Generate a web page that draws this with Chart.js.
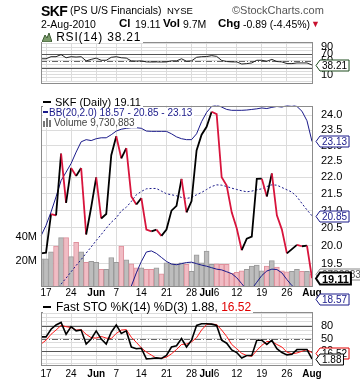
<!DOCTYPE html>
<html><head><meta charset="utf-8">
<script src="https://cdn.jsdelivr.net/npm/chart.js@4.4.1/dist/chart.umd.min.js"></script>
<style>
html,body{margin:0;padding:0;background:#fff;}
#wrap{position:relative;width:360px;height:384px;overflow:hidden;font-family:"Liberation Sans",Arial,sans-serif;background:#fff;}
canvas{position:absolute;left:0;}
.t{position:absolute;white-space:nowrap;line-height:1;color:#000;}
.lg{position:absolute;white-space:nowrap;background:#fff;line-height:1;}
.b{font-weight:bold;}
</style></head><body><div id="wrap">
<canvas id="cPrice" width="360" height="222" style="top:90px"></canvas>
<canvas id="cRsi" width="360" height="72" style="top:26px"></canvas>
<canvas id="cSto" width="360" height="88" style="top:296px"></canvas>

<div class="t b" style="left:41px;top:4px;font-size:14px;letter-spacing:-0.6px;">SKF</div>
<div class="t" style="left:70px;top:5px;font-size:10.5px;">(PS U/S Financials)</div>
<div class="t" style="left:167px;top:6px;font-size:9.5px;">NYSE</div>
<div class="t" style="left:232px;top:5px;font-size:11px;color:#555;">©StockCharts.com</div>
<div class="t" style="left:41px;top:19px;font-size:10.5px;">2-Aug-2010</div>
<div class="t b" style="left:119px;top:18px;font-size:11.5px;">Cl</div>
<div class="t" style="left:135px;top:19px;font-size:10.5px;">19.11</div>
<div class="t b" style="left:163px;top:18px;font-size:11.5px;">Vol</div>
<div class="t" style="left:183px;top:19px;font-size:10.5px;">9.7M</div>
<div class="t b" style="left:218px;top:18px;font-size:11.5px;">Chg</div>
<div class="t" style="left:243px;top:19px;font-size:10.5px;">-0.89 (-4.45%)</div>
<div class="t" style="left:311px;top:20px;font-size:9px;color:#c8102e;">▼</div>

<div class="lg" style="left:42px;top:31px;font-size:12px;letter-spacing:0.8px;padding-right:2px;"><svg width="10" height="9" style="vertical-align:-1px"><polygon points="0,9 3,2 5,5 7,0 10,9" fill="#7a9a6a" stroke="#3d5c33" stroke-width="1"/></svg> RSI(14) 38.21</div>

<div class="lg" style="left:43px;top:97px;font-size:11px;padding-right:2px;"><span style="display:inline-block;width:8px;height:2px;background:#000;vertical-align:3px;margin-right:4px;"></span>SKF (Daily) 19.11</div>
<div class="lg" style="left:43px;top:108px;font-size:10px;color:#1a1a8a;padding-right:2px;"><span style="display:inline-block;width:5px;height:2px;background:#1a1a8a;vertical-align:3px;margin-right:1px;"></span>BB(20,2.0) 18.57 - 20.85 - 23.13</div>
<div class="lg" style="left:43px;top:118px;font-size:10px;color:#444;padding-right:2px;"><svg width="10" height="9" style="vertical-align:-1px;margin-right:1px"><rect x="0" y="3" width="2" height="6" fill="#777"/><rect x="3" y="0" width="2" height="9" fill="#777"/><rect x="6" y="2" width="2" height="7" fill="#777"/></svg>Volume 9,730,883</div>

<div class="lg" style="left:43px;top:301px;font-size:12px;padding-right:2px;"><span style="display:inline-block;width:8px;height:2px;background:#000;vertical-align:3px;margin-right:5px;"></span>Fast STO %K(14) %D(3) 1.88, <span style="color:#e00000">16.52</span></div>
</div>
<script>
// ---------- DATA ----------
const dates = ['2010-05-14','2010-05-17','2010-05-18','2010-05-19','2010-05-20','2010-05-21','2010-05-24','2010-05-25','2010-05-26','2010-05-27','2010-05-28','2010-06-01','2010-06-02','2010-06-03','2010-06-04','2010-06-07','2010-06-08','2010-06-09','2010-06-10','2010-06-11','2010-06-14','2010-06-15','2010-06-16','2010-06-17','2010-06-18','2010-06-21','2010-06-22','2010-06-23','2010-06-24','2010-06-25','2010-06-28','2010-06-29','2010-06-30','2010-07-01','2010-07-02','2010-07-06','2010-07-07','2010-07-08','2010-07-09','2010-07-12','2010-07-13','2010-07-14','2010-07-15','2010-07-16','2010-07-19','2010-07-20','2010-07-21','2010-07-22','2010-07-23','2010-07-26','2010-07-27','2010-07-28','2010-07-29','2010-07-30','2010-08-02'];
const close = [19.78,19.80,20.90,20.86,22.74,21.23,22.29,22.04,22.29,20.31,21.10,22.00,20.77,20.90,22.69,23.30,22.59,22.92,21.42,21.18,21.37,20.45,20.40,20.45,20.27,20.45,21.00,21.14,21.95,20.95,21.28,22.84,23.35,23.61,24.11,24.03,22.00,21.75,20.95,20.49,19.87,20.19,20.25,21.95,21.96,21.42,22.12,20.86,20.45,19.78,19.90,20.02,19.98,20.00,19.11];
const bbUpper = [20.27,20.57,20.96,21.41,21.90,22.16,22.43,22.79,23.12,23.19,23.16,23.22,23.25,23.25,23.35,23.47,23.53,23.56,23.58,23.58,23.56,23.47,23.46,23.46,23.46,23.46,23.38,23.28,23.22,23.19,23.19,23.38,23.78,24.09,24.29,24.34,24.27,24.19,24.16,24.16,24.16,24.17,24.19,24.21,24.24,24.22,24.26,24.29,24.27,24.32,24.35,24.29,24.13,23.81,23.13];
const bbMiddle = [18.30,18.45,18.62,18.78,18.95,19.11,19.28,19.45,19.61,19.79,19.96,20.14,20.31,20.49,20.66,20.79,20.99,21.10,21.27,21.47,21.57,21.65,21.66,21.66,21.58,21.50,21.47,21.44,21.39,21.36,21.39,21.47,21.54,21.63,21.72,21.77,21.76,21.72,21.67,21.63,21.59,21.56,21.58,21.62,21.65,21.72,21.77,21.76,21.69,21.62,21.55,21.41,21.21,21.02,20.85];
const bbLower = [16.3,16.3,16.3,16.2,16.0,16.1,16.1,16.1,16.1,16.4,16.8,17.1,17.4,17.7,18.0,18.1,18.4,18.7,18.90,19.25,19.56,19.82,19.85,19.78,19.67,19.56,19.49,19.47,19.50,19.53,19.54,19.50,19.46,19.43,19.39,19.35,19.33,19.28,19.23,19.12,18.96,18.80,18.82,19.00,19.18,19.30,19.35,19.34,19.25,19.07,18.91,18.80,18.72,18.64,18.57];
const volumeM = [22.1,22.1,27.7,32.3,39.2,39.2,23.8,35.4,27.7,19.2,20.0,19.2,13.6,13.6,23.1,19.2,32.3,21.3,17.9,14.8,14.8,13.6,13.6,14.8,9.8,18.7,17.9,17.9,18.7,17.5,11.8,25.2,18.7,28.2,17.5,17.9,17.5,17.5,10.2,11.0,12.3,13.6,16.2,16.9,12.3,16.2,20.5,15.4,12.3,11.5,11.8,13.6,11.8,11.8,9.730883];
const rsi = [56.5,56.5,62.6,62.6,68.7,59.5,62.6,61.5,62.6,50.3,54.7,58.4,52.1,52.1,60.8,62.6,59.5,58.4,50.3,49.5,50.3,47.3,47.0,47.3,47.0,47.3,50.3,50.3,56.5,49.2,50.3,60.8,62.6,63.0,65.7,63.5,51.6,48.4,47.3,47.3,41.1,42.3,44.2,52.1,52.1,49.2,54.7,48.4,47.3,42.3,42.3,44.2,44.2,44.2,38.21];
const stoK = [54,54,72,82,88,60,78,68,70,37,49,68,49,37,65,82,62,68,30,26,27,2,3,4.5,3,10,30,33,50,30,46,81,85,85,84,81,46,39,23,17,4,10,10,46,46,36,46,26,17,11.5,13,24,24,24,1.88];
const stoD = [37,46,60,70,81,78,76,70,71,60,52,51,55,51,50,62,70,71,53,41,28,18,11,3.5,3.5,6,14,24,36,37,42,52,70,83,84,83,70,55,36,26,15,10,8,22,34,43,43,36,30,18,14,16,20,24,16.52];
const xTickDates = ['2010-05-17','2010-05-24','2010-06-01','2010-06-07','2010-06-14','2010-06-21','2010-06-28','2010-07-01','2010-07-06','2010-07-12','2010-07-19','2010-07-26','2010-08-02'];
const xTickText = ['17','24','Jun','7','14','21','28','Jul','6','12','19','26','Aug'];
const monthLabels = ['Jun','Jul','Aug'];
const noGridLabels = ['6','Aug'];
const priceTicks = [19.0,19.5,20.0,20.5,21.0,21.5,22.0,22.5,23.0,23.5,24.0];
const volTicks = [20,40];
const rsiGridLevels = [-10,0,10,20,30,40,50,60,70,80,90,100];
const rsiTicks = [90,70,50,30,10];
const stoGridLevels = [-10,0,10,20,30,40,50,60,70,80,90,100,110];
const stoTicks = [80,50,20];

// ---------- STYLE ----------
const FONT = '"Liberation Sans", Arial, Helvetica, sans-serif';
const GRID = '#dcdcdc';
const UP = '#000000', DOWN = '#d8143c', BB = '#1a1a8a';
Chart.defaults.font.family = FONT;
Chart.defaults.font.size = 11;
Chart.defaults.color = '#000';
Chart.defaults.animation = false;

const xLabelAt = {};
xTickDates.forEach((d, k) => { xLabelAt[dates.indexOf(d)] = xTickText[k]; });

function xAxis(h, pad, show) {
  return {
    type: 'category', offset: false,
    grid: { offset: false, drawTicks: false, lineWidth: 1,
      color: c => (xLabelAt[c.index] !== undefined && !noGridLabels.includes(xLabelAt[c.index])) ? GRID : 'rgba(0,0,0,0)' },
    border: { display: false },
    ticks: { display: show, autoSkip: false, maxRotation: 0, minRotation: 0, padding: pad, color: '#000',
      callback: (v, i) => xLabelAt[i] !== undefined ? xLabelAt[i] : '',
      font: c => ({ family: FONT, size: 10, weight: monthLabels.includes(xLabelAt[c.index]) ? 'bold' : 'normal' }) },
    afterFit: s => { s.height = h; }
  };
}
function rightAxis(extra, cb) {
  return Object.assign({
    position: 'right',
    grid: { color: GRID, drawTicks: false, lineWidth: 1 },
    border: { display: false },
    ticks: { autoSkip: false, padding: 9, color: '#000', font: { family: FONT, size: 11 }, callback: cb },
    afterFit: s => { s.width = 48; }
  }, extra);
}
const framePlugin = {
  id: 'frame',
  afterDatasetsDraw(chart) {
    const { ctx, chartArea: a } = chart;
    ctx.save(); ctx.strokeStyle = '#8c8c8c'; ctx.lineWidth = 1;
    ctx.strokeRect(Math.round(a.left) + 0.5, Math.round(a.top) + 0.5, Math.round(a.right - a.left), Math.round(a.bottom - a.top));
    ctx.restore();
  }
};
function makeRefLines(scaleID, lines) {
  return { id: 'ref' + scaleID, beforeDatasetsDraw(chart) {
    const { ctx, chartArea: a } = chart; const s = chart.scales[scaleID];
    ctx.save();
    lines.forEach(l => {
      const y = Math.round(s.getPixelForValue(l.value)) + 0.5;
      ctx.beginPath(); ctx.setLineDash(l.dash || []); ctx.strokeStyle = l.color; ctx.lineWidth = 1;
      ctx.moveTo(a.left, y); ctx.lineTo(a.right, y); ctx.stroke();
    });
    ctx.restore();
  } };
}
function makeTags(tags) {
  return { id: 'tags', afterDraw(chart) {
    const ctx = chart.ctx; const x = chart.chartArea.right + 4;
    tags.forEach(t => {
      const y = Math.round(chart.scales[t.scaleID].getPixelForValue(t.value)) + 0.5;
      ctx.save();
      ctx.font = (t.bold ? 'bold ' : '') + t.size + 'px ' + FONT;
      const w = ctx.measureText(t.text).width;
      const h = t.size + 1, ar = 4;
      ctx.beginPath();
      ctx.moveTo(x, y); ctx.lineTo(x + ar, y - h / 2); ctx.lineTo(x + ar + w + 4, y - h / 2);
      ctx.lineTo(x + ar + w + 4, y + h / 2); ctx.lineTo(x + ar, y + h / 2); ctx.closePath();
      ctx.fillStyle = '#fff'; ctx.fill();
      ctx.lineWidth = t.lw || 1; ctx.strokeStyle = t.border; ctx.stroke();
      ctx.fillStyle = t.color; ctx.textBaseline = 'middle'; ctx.textAlign = 'left';
      ctx.fillText(t.text, x + ar + 2, y + 1);
      ctx.restore();
    });
  } };
}
const last = a => a[a.length - 1];

// ---------- RSI ----------
new Chart(document.getElementById('cRsi'), {
  type: 'line',
  data: { labels: dates, datasets: [{ data: rsi, borderColor: '#222', borderWidth: 1, pointRadius: 0, tension: 0 }] },
  options: {
    responsive: false, events: [],
    layout: { padding: { left: 41, top: 5, bottom: 2, right: 0 } },
    plugins: { legend: { display: false }, tooltip: { enabled: false } },
    scales: {
      x: xAxis(0, 0, false),
      y: rightAxis({ min: -13, max: 107,
        afterBuildTicks: s => { s.ticks = rsiGridLevels.map(v => ({ value: v })); } },
        v => rsiTicks.includes(v) ? String(v) : '')
    }
  },
  plugins: [framePlugin,
    makeRefLines('y', [{ value: 70, color: '#555' }, { value: 30, color: '#555' }, { value: 50, color: '#666', dash: [6, 2, 1, 2] }]),
    makeTags([{ scaleID: 'y', value: last(rsi), text: last(rsi).toFixed(2), border: '#1e4d1e', color: '#000', size: 10 }])]
});

// ---------- PRICE + VOLUME ----------
new Chart(document.getElementById('cPrice'), {
  type: 'line',
  data: { labels: dates, datasets: [
    { type: 'line', data: close, yAxisID: 'y', borderWidth: 1.8, pointRadius: 0, tension: 0, order: 1, borderColor: UP,
      segment: { borderColor: c => c.p1.parsed.y < c.p0.parsed.y ? DOWN : UP } },
    { type: 'line', data: bbUpper, yAxisID: 'y', borderColor: BB, borderWidth: 1, pointRadius: 0, tension: 0, order: 2 },
    { type: 'line', data: bbMiddle, yAxisID: 'y', borderColor: BB, borderWidth: 1, borderDash: [2, 2], pointRadius: 0, tension: 0, order: 2 },
    { type: 'line', data: bbLower, yAxisID: 'y', borderColor: BB, borderWidth: 1, pointRadius: 0, tension: 0, order: 2 },
    { type: 'bar', data: volumeM, yAxisID: 'yv', order: 5, categoryPercentage: 1, barPercentage: 1, borderWidth: 1,
      borderSkipped: 'bottom',
      backgroundColor: c => (c.dataIndex > 0 && close[c.dataIndex] < close[c.dataIndex - 1]) ? '#f0bcc4' : '#bdbdbd',
      borderColor: c => (c.dataIndex > 0 && close[c.dataIndex] < close[c.dataIndex - 1]) ? '#e0909c' : '#9a9a9a' }
  ] },
  options: {
    responsive: false, events: [],
    layout: { padding: { left: 0, top: 6, bottom: 0, right: 0 } },
    plugins: { legend: { display: false }, tooltip: { enabled: false } },
    scales: {
      x: xAxis(26, 1, true),
      y: rightAxis({ type: 'logarithmic', min: 18.9, max: 24.32,
        afterBuildTicks: s => { s.ticks = priceTicks.map(v => ({ value: v })); } },
        v => Number(v).toFixed(1)),
      yv: { type: 'linear', position: 'left', min: 0, max: 146.2,
        afterBuildTicks: s => { s.ticks = volTicks.map(v => ({ value: v })); },
        grid: { drawOnChartArea: false, drawTicks: false }, border: { display: false },
        ticks: { autoSkip: false, padding: 4, color: '#000', font: { family: FONT, size: 11 }, callback: v => v + 'M' },
        afterFit: s => { s.width = 41; } }
    }
  },
  plugins: [framePlugin, makeTags([
    { scaleID: 'y', value: last(bbUpper), text: last(bbUpper).toFixed(2), border: BB, color: BB, size: 10 },
    { scaleID: 'y', value: last(bbMiddle), text: last(bbMiddle).toFixed(2), border: BB, color: BB, size: 10 },
    { scaleID: 'y', value: last(bbLower), text: last(bbLower).toFixed(2), border: BB, color: BB, size: 10 },
    { scaleID: 'yv', value: last(volumeM), text: String(Math.round(last(volumeM) * 1e6)), border: '#888', color: '#555', size: 10 },
    { scaleID: 'y', value: last(close), text: last(close).toFixed(2), border: '#000', color: '#000', size: 11, bold: true, lw: 2 }
  ])]
});

// ---------- STOCHASTICS ----------
new Chart(document.getElementById('cSto'), {
  type: 'line',
  data: { labels: dates, datasets: [
    { data: stoK, borderColor: '#000', borderWidth: 1.6, pointRadius: 0, tension: 0, order: 1 },
    { data: stoD, borderColor: '#ff1a1a', borderWidth: 1, pointRadius: 0, tension: 0, order: 2 }
  ] },
  options: {
    responsive: false, events: [],
    layout: { padding: { left: 41, top: 4, bottom: 0, right: 0 } },
    plugins: { legend: { display: false }, tooltip: { enabled: false } },
    scales: {
      x: xAxis(19, 3, true),
      y: rightAxis({ min: -12.4, max: 113.5,
        afterBuildTicks: s => { s.ticks = stoGridLevels.map(v => ({ value: v })); } },
        v => stoTicks.includes(v) ? String(v) : '')
    }
  },
  plugins: [framePlugin,
    makeRefLines('y', [{ value: 80, color: '#555' }, { value: 20, color: '#555' }, { value: 50, color: '#666', dash: [6, 2, 1, 2] }]),
    makeTags([
      { scaleID: 'y', value: last(stoD), text: last(stoD).toFixed(2), border: '#e00000', color: '#000', size: 10 },
      { scaleID: 'y', value: last(stoK), text: last(stoK).toFixed(2), border: '#000', color: '#000', size: 10 }
    ])]
});
</script></body></html>
